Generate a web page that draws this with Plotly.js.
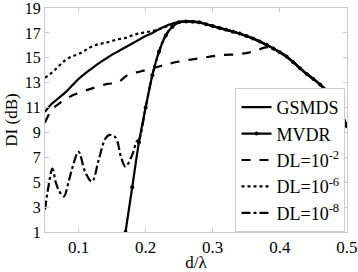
<!DOCTYPE html>
<html>
<head>
<meta charset="utf-8">
<script src="https://cdn.plot.ly/plotly-3.0.1.min.js"></script>
<style>html,body{margin:0;padding:0;background:#fff;}#chart{width:358px;height:272px;}</style>
</head>
<body>
<div id="chart"></div>
<script>
const gsmdsX = [0.05,0.06,0.07,0.08,0.09,0.10,0.11,0.12,0.13,0.14,0.15,0.16,0.17,0.18,0.19,0.20,0.21,0.22,0.23,0.24,0.25,0.26,0.27,0.28,0.29,0.30,0.31,0.32,0.33,0.34,0.35,0.36,0.37,0.38,0.39,0.40,0.41,0.42,0.43,0.44,0.45,0.46,0.47,0.48,0.49,0.50];
const gsmdsY = [10.65,11.3,11.75,12.2,12.75,13.3,13.75,14.15,14.55,14.9,15.25,15.55,15.85,16.15,16.45,16.75,17.0,17.3,17.55,17.75,17.88,17.92,17.9,17.85,17.7,17.55,17.4,17.25,17.1,16.95,16.75,16.55,16.3,16.05,15.75,15.45,15.1,14.65,14.15,13.7,13.3,12.85,12.35,11.7,10.7,9.5];

const mvdrX = [0.17,0.18,0.19,0.20,0.21,0.22,0.23,0.24,0.25,0.26,0.27,0.28,0.29,0.30,0.31,0.32,0.33,0.34,0.35,0.36,0.37,0.38,0.39,0.40,0.41,0.42,0.43,0.44,0.45,0.46,0.47,0.48,0.49,0.50];
const mvdrY = [1.0,4.6,8.2,11.0,13.6,15.5,16.8,17.5,17.85,17.92,17.9,17.85,17.7,17.55,17.4,17.25,17.1,16.95,16.75,16.55,16.3,16.05,15.75,15.45,15.1,14.65,14.15,13.7,13.3,12.85,12.35,11.7,10.7,9.5];

const dl2X = [0.05,0.06,0.073,0.092,0.118,0.143,0.158,0.173,0.192,0.21,0.23,0.25,0.28,0.31,0.34,0.36,0.383,0.40,0.41,0.42,0.43,0.44,0.45,0.46,0.47,0.48,0.49,0.50];
const dl2Y = [9.8,10.8,11.4,12.0,12.5,12.9,13.0,13.6,13.9,14.15,14.45,14.7,14.95,15.2,15.3,15.5,15.85,15.45,15.1,14.65,14.15,13.7,13.3,12.85,12.35,11.7,10.7,9.5];

const dl6X = [0.05,0.06,0.07,0.08,0.09,0.10,0.11,0.12,0.13,0.14,0.15,0.16,0.17,0.18,0.19,0.20,0.21,0.22,0.23,0.24,0.25,0.26,0.27,0.28,0.29,0.30,0.32,0.34,0.36,0.38,0.40,0.42,0.44,0.46,0.48,0.50];
const dl6Y = [13.4,13.8,14.3,14.8,15.1,15.3,15.6,15.9,16.1,16.2,16.35,16.5,16.6,16.8,16.95,17.05,17.15,17.3,17.5,17.7,17.85,17.92,17.9,17.85,17.7,17.55,17.25,16.95,16.55,16.05,15.45,14.65,13.7,12.85,11.7,9.5];

const dl8X = [0.05,0.055,0.061,0.066,0.071,0.078,0.085,0.091,0.100,0.110,0.120,0.130,0.140,0.146,0.155,0.164,0.170,0.180,0.187,0.19,0.20,0.21,0.22,0.23,0.24,0.25,0.26,0.28,0.30,0.32,0.34,0.36,0.38,0.40,0.42,0.44,0.46,0.48,0.50];
const dl8Y = [2.8,4.6,6.1,5.0,4.3,3.85,5.0,6.2,7.45,5.8,5.05,6.8,8.5,8.8,8.6,6.9,6.25,7.2,8.3,8.4,11.0,13.6,15.5,16.8,17.5,17.85,17.92,17.85,17.55,17.25,16.95,16.55,16.05,15.45,14.65,13.7,12.85,11.7,9.5];

const xTicks = [0.1,0.2,0.3,0.4,0.5];
const yTicks = [1,3,5,7,9,11,13,15,17,19];

const lw = 2.2;
const traces = [
  {x: gsmdsX, y: gsmdsY, name: 'GSMDS', mode: 'lines', line: {color: '#000', width: lw, shape: 'spline'}},
  {x: mvdrX, y: mvdrY, name: 'MVDR', mode: 'lines+markers', line: {color: '#000', width: lw, shape: 'spline'}, marker: {color: '#000', size: 4, symbol: 'circle'}},
  {x: dl2X, y: dl2Y, name: 'DL=10<sup>-2</sup>', mode: 'lines', line: {color: '#000', width: lw, dash: 'dash', shape: 'spline'}},
  {x: dl6X, y: dl6Y, name: 'DL=10<sup>-6</sup>', mode: 'lines', line: {color: '#000', width: lw, dash: 'dot', shape: 'spline'}},
  {x: dl8X, y: dl8Y, name: 'DL=10<sup>-8</sup>', mode: 'lines', line: {color: '#000', width: lw, dash: 'dashdot', shape: 'spline'}}
];

const fontFam = 'Liberation Serif';
const layout = {
  width: 358, height: 272,
  margin: {l: 45, r: 11, t: 8, b: 40},
  paper_bgcolor: '#fff', plot_bgcolor: '#fff',
  font: {family: fontFam, size: 16, color: '#000'},
  showlegend: true,
  legend: {x: 0.995, y: 0.0, xanchor: 'right', yanchor: 'bottom', bgcolor: '#fff', bordercolor: '#ccc', borderwidth: 1, font: {family: fontFam, size: 18, color: '#000'}, tracegroupgap: 0},
  xaxis: {range: [0.05, 0.5001], tickvals: xTicks, ticktext: xTicks.map(String), ticks: 'inside', ticklen: 4, tickcolor: '#ccc', showline: true, linecolor: '#ccc', linewidth: 1, mirror: 'ticks', showgrid: false, zeroline: false, ticklabeloverflow: 'allow', tickfont: {family: fontFam, size: 17},
          title: {text: 'd/λ', font: {family: fontFam, size: 17}, standoff: 0}},
  yaxis: {range: [0.999, 19.001], tickvals: yTicks, ticktext: yTicks.map(String), ticks: 'inside', ticklen: 4, tickcolor: '#ccc', showline: true, linecolor: '#ccc', linewidth: 1, mirror: 'ticks', showgrid: false, zeroline: false, ticklabeloverflow: 'allow', tickfont: {family: fontFam, size: 16},
          title: {text: 'DI (dB)', font: {family: fontFam, size: 17}, standoff: 2}}
};
Plotly.newPlot('chart', traces, layout, {displayModeBar: false, staticPlot: true});
</script>
</body>
</html>
